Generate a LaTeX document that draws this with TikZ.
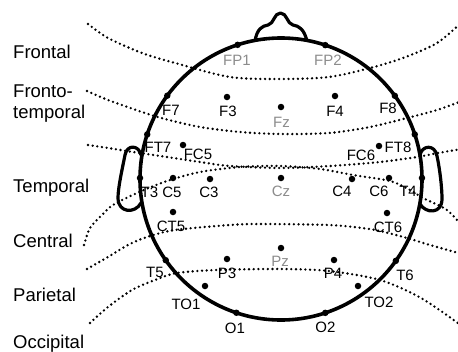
\documentclass[tikz,border=0pt]{standalone}
\usepackage{fontspec}
\setmainfont{Liberation Sans}
\usetikzlibrary{calc}
\definecolor{midline}{gray}{0.55}
\begin{document}
\begin{tikzpicture}[x=1pt,y=-1pt,
  zone/.style={dash pattern=on 0pt off 4.7pt, line cap=round, line width=2.6pt},
  outline/.style={line width=3.6pt, line join=round},
  elec/.style={circle, fill=black, inner sep=0pt, minimum size=6.5pt},
  rim/.style={circle, fill=black, inner sep=0pt, minimum size=6.5pt},
  lab/.style={font=\fontsize{15}{15}\selectfont, inner sep=0pt},
  midlab/.style={lab, text=midline},
  region/.style={font=\fontsize{18.5}{18.5}\selectfont, inner sep=0pt, anchor=base west}]
\useasboundingbox (0,0) rectangle (458,351);

% zone boundaries (dotted)
\begin{scope}
\clip (0,0) rectangle (458,351);
\draw[zone] plot[smooth] coordinates {(88,24) (108,38) (142,53) (175,63) (230,77) (281,79) (329,77) (370,68) (403,58) (437,43) (462,22)};
\draw[zone] plot[smooth] coordinates {(87,91) (108,100) (142,112) (165,119) (200,127) (240,132) (281,134) (329,133) (370,127) (407,118) (437,110) (462,101)};
\draw[zone] plot[smooth] coordinates {(88,145) (108,148) (133,152) (167,157) (200,162) (230,166) (281,168) (330,166) (380,162) (417,157) (438,153) (462,149)};
\draw[zone] plot[smooth] coordinates {(84,245) (90,228) (102,215) (113,205) (137,193) (167,181) (200,172) (240,167) (281,166) (320,169) (353,175) (390,181) (410,190) (423,198) (447,210) (462,226)};
\draw[zone] plot[smooth] coordinates {(87,269) (108,257) (128,245) (147,237) (175,230) (230,225) (260,224) (329,225) (362,228) (380,231) (407,238) (430,245) (462,254)};
\draw[zone] plot[smooth] coordinates {(90,323) (108,307) (132,290) (155,280) (177,273) (217,270) (281,269) (329,271) (380,280) (421,298) (462,326)};
\end{scope}

% head, nose and ears
\coordinate (hc) at (281,179);
\draw[outline] (hc) circle[radius=141pt];
\draw[outline, line width=3.2pt] (255,41) .. controls (257,29) and (262,26) .. (268,25)
  .. controls (274,24) and (274,13) .. (280.5,13)
  .. controls (287,13) and (287,24) .. (293,25)
  .. controls (299,26) and (304,29) .. (307,41);
\draw[outline, line width=3.2pt] (141,155) .. controls (139,145) and (127,144) .. (125,155)
  .. controls (122,170) and (118,188) .. (118,198)
  .. controls (118,213) and (135,214) .. (141,203);
\draw[outline, line width=3.2pt] (420,155) .. controls (422,145) and (435,144) .. (437,156)
  .. controls (440,170) and (442,188) .. (442,199)
  .. controls (442,214) and (426,214) .. (420,204);

% electrodes on the rim
\node[rim] (eFP1) at ($(hc)!141pt!(237,43)$) {};
\node[rim] (eFP2) at ($(hc)!141pt!(326,43)$) {};
\node[rim] (eF7)  at ($(hc)!141pt!(165,94)$) {};
\node[rim] (eF8)  at ($(hc)!141pt!(396,95)$) {};
\node[rim] (eFT7) at ($(hc)!141pt!(146,134)$) {};
\node[rim] (eFT8) at ($(hc)!141pt!(416,134)$) {};
\node[rim] (eT3)  at ($(hc)!141pt!(140,178)$) {};
\node[rim] (eT4)  at ($(hc)!141pt!(423,178)$) {};
\node[rim] (eT5)  at ($(hc)!141pt!(166,260)$) {};
\node[rim] (eT6)  at ($(hc)!141pt!(396,261)$) {};
\node[rim] (eO1)  at ($(hc)!141pt!(237,311)$) {};
\node[rim] (eO2)  at ($(hc)!141pt!(325,312)$) {};

% electrodes inside
\node[elec] (eF3)  at (227,97) {};
\node[elec] (eFz)  at (281,107) {};
\node[elec] (eF4)  at (335,96) {};
\node[elec] (eFC5) at (183,145) {};
\node[elec] (eFC6) at (379,146) {};
\node[elec] (eC5)  at (173,178) {};
\node[elec] (eC3)  at (210,179) {};
\node[elec] (eCz)  at (281,178) {};
\node[elec] (eC4)  at (352,179) {};
\node[elec] (eC6)  at (389,178) {};
\node[elec] (eCT5) at (173,212) {};
\node[elec] (eCT6) at (387,213) {};
\node[elec] (eP3)  at (227,259) {};
\node[elec] (ePz)  at (281,248) {};
\node[elec] (eP4)  at (334,260) {};
\node[elec] (eTO1) at (205,286) {};
\node[elec] (eTO2) at (358,286) {};

% electrode names
\node[midlab] (lFP1) at (237,60) {FP1};
\node[midlab] (lFP2) at (328,60) {FP2};
\node[lab] (lF7)  at (171,110) {F7};
\node[lab] (lF3)  at (228,111) {F3};
\node[midlab] (lFz) at (281.5,122.5) {Fz};
\node[lab] (lF4)  at (335,111) {F4};
\node[lab] (lF8)  at (388,108) {F8};
\node[lab] (lFT7) at (158,147.5) {FT7};
\node[lab] (lFC5) at (198,154) {FC5};
\node[lab] (lFC6) at (361,155) {FC6};
\node[lab] (lFT8) at (398,147) {FT8};
\node[lab] (lT3)  at (149.5,192) {T3};
\node[lab] (lC5)  at (172,192) {C5};
\node[lab] (lC3)  at (209,192) {C3};
\node[midlab] (lCz) at (281,191) {Cz};
\node[lab] (lC4)  at (342,191) {C4};
\node[lab] (lC6)  at (379,191) {C6};
\node[lab] (lT4)  at (408,191) {T4};
\node[lab] (lCT5) at (171,226) {CT5};
\node[lab] (lCT6) at (388,227.5) {CT6};
\node[lab] (lT5)  at (155,272.5) {T5};
\node[lab] (lP3)  at (227,273) {P3};
\node[midlab] (lPz) at (280,261) {Pz};
\node[lab] (lP4)  at (333,273.5) {P4};
\node[lab] (lT6)  at (405,275.5) {T6};
\node[lab] (lTO1) at (186,304) {TO1};
\node[lab] (lTO2) at (379,302.5) {TO2};
\node[lab] (lO1)  at (235,328) {O1};
\node[lab] (lO2)  at (325.5,327) {O2};

% region names
\node[region] (rFrontal)   at (13,58)  {Frontal};
\node[region] (rFronto)    at (13,97)  {Fronto-};
\node[region] (rFrontoT)   at (13,118) {temporal};
\node[region] (rTemporal)  at (13,192) {Temporal};
\node[region] (rCentral)   at (13,247) {Central};
\node[region] (rParietal)  at (13,301) {Parietal};
\node[region] (rOccipital) at (13,348) {Occipital};
\end{tikzpicture}
\end{document}
